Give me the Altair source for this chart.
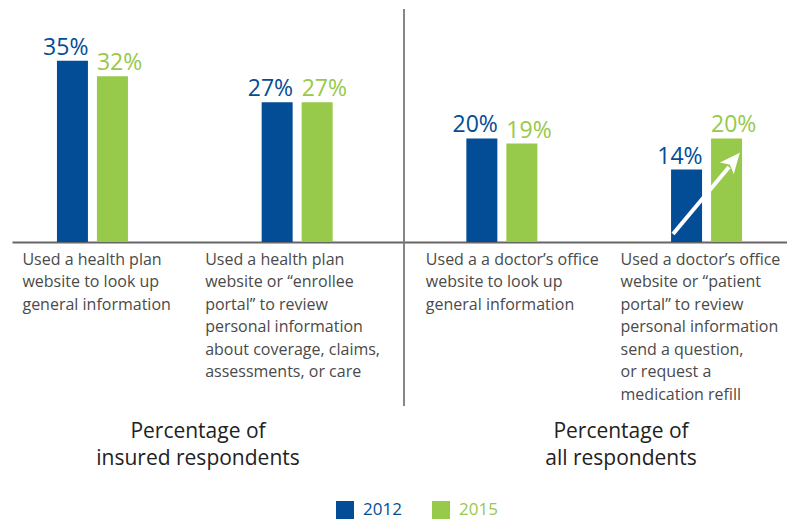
import json
import altair as alt
import pandas as pd

# ---------------- data ----------------
categories = [
    "Used a health plan|website to look up|general information",
    "Used a health plan|website or \u201cenrollee|portal\u201d to review|personal information|about coverage, claims,|assessments, or care",
    "Used a a doctor\u2019s office|website to look up|general information",
    "Used a doctor\u2019s office|website or \u201cpatient|portal\u201d to review|personal information|send a question,|or request a|medication refill",
]
years = ["2012", "2015"]
values_2012 = [35, 27, 20, 14]
values_2015 = [32, 27, 19, 20]
section_left = ["Percentage of", "insured respondents"]
section_right = ["Percentage of", "all respondents"]

BLUE = "#034d97"
GREEN = "#97c94a"

rows = []
for c, v in zip(categories, values_2012):
    rows.append({"cat": c, "year": "2012", "value": v, "label": f"{v}%"})
for c, v in zip(categories, values_2015):
    rows.append({"cat": c, "year": "2015", "value": v, "label": f"{v}%"})
df = pd.DataFrame(rows)

label_offsets = [-70, -92, -76, -86]
offset_cond = {
    "condition": [
        {"test": "datum.value === " + json.dumps(c, ensure_ascii=False), "value": o}
        for c, o in zip(categories[:-1], label_offsets[:-1])
    ],
    "value": label_offsets[-1],
}

x_enc = alt.X(
    "cat:N",
    sort=categories,
    scale=alt.Scale(paddingInner=0.5, paddingOuter=0.143),
    axis=alt.Axis(
        title=None,
        labelExpr="split(datum.label, '|')",
        labelAngle=0,
        labelAlign="left",
        labelBaseline="top",
        labelPadding=9,
        labelFont="Open Sans",
        labelFontSize=16,
        labelColor="#4a4a4a",
        labelLineHeight=22.5,
        labelLimit=0,
        labelOverlap=False,
        ticks=False,
        domainColor="#666666",
        domainWidth=2,
        labelOffset=offset_cond,
    ),
)
xoff = alt.XOffset("year:N", sort=years, scale=alt.Scale(paddingInner=0.225, paddingOuter=0.392))
y_enc = alt.Y("value:Q", scale=alt.Scale(domain=[0, 45], nice=False), axis=None)

base = alt.Chart(df)

bars = base.mark_bar().encode(
    x=x_enc,
    xOffset=xoff,
    y=y_enc,
    color=alt.Color(
        "year:N",
        sort=years,
        scale=alt.Scale(domain=years, range=[BLUE, GREEN]),
        legend=alt.Legend(
            title=None,
            orient="none",
            direction="horizontal",
            legendX=324,
            legendY=492,
            symbolType="square",
            symbolSize=324,
            symbolStrokeWidth=0,
            symbolOpacity=1,
            labelFont="Open Sans",
            labelFontSize=17,
            labelOffset=9,
            columnPadding=30,
            labelColor={"expr": f"datum.label == '2012' ? '{BLUE}' : '{GREEN}'"},
        ),
    ),
)

txt_common = dict(font="Open Sans", fontSize=23, baseline="alphabetic", dy=-6)
txt_2012 = base.transform_filter("datum.year == '2012'").mark_text(
    align="right", dx=16, color=BLUE, **txt_common
).encode(x=x_enc, xOffset=xoff, y=y_enc, text="label:N")
txt_2015 = base.transform_filter("datum.year == '2015'").mark_text(
    align="left", dx=-15.5, color=GREEN, **txt_common
).encode(x=x_enc, xOffset=xoff, y=y_enc, text="label:N")

one = alt.Chart(pd.DataFrame({"k": [0]}))

divider = one.mark_rule(color="#7a7a7a", strokeWidth=1.8).encode(
    x=alt.value(392), y=alt.value(0), y2=alt.value(397)
)

arrow_line = one.mark_rule(color="white", strokeWidth=4).encode(
    x=alt.value(661), y=alt.value(225), x2=alt.value(717), y2=alt.value(158)
)
arrow_head = one.mark_point(
    shape="M0,-1L0.85,0.9L0,0.45L-0.85,0.9Z", filled=True, color="white", opacity=1,
    size=450, angle=40,
).encode(x=alt.value(721), y=alt.value(152))

title_common = dict(font="Open Sans", fontSize=21, color="#222222", align="center",
                    baseline="top", lineHeight=27)
title_left = one.mark_text(text=section_left, **title_common).encode(
    x=alt.value(186), y=alt.value(412)
)
title_right = one.mark_text(text=section_right, **title_common).encode(
    x=alt.value(609), y=alt.value(412)
)

chart = (
    alt.layer(bars, txt_2012, txt_2015, divider, arrow_line, arrow_head, title_left, title_right)
    .properties(width=775, height=233, padding={"left": 4, "top": 0, "right": 0, "bottom": 0})
    .configure_view(stroke=None)
)

chart.save("out.html", embed_options={"renderer": "svg", "actions": False})
